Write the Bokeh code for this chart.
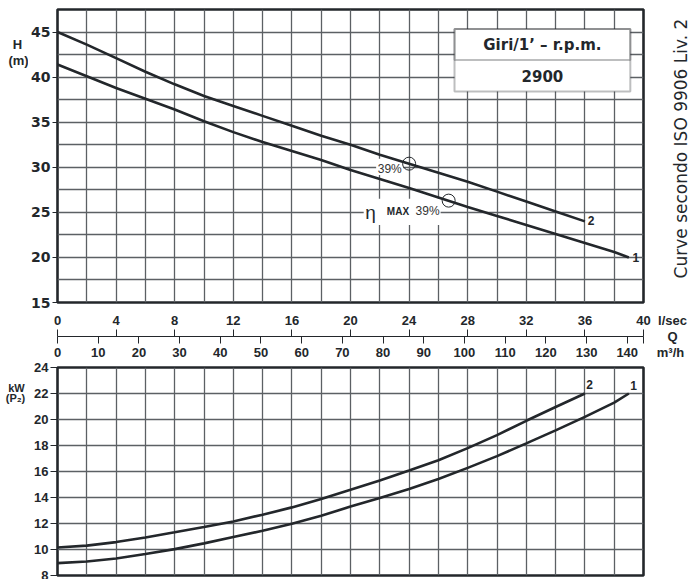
import math
from bokeh.plotting import figure
from bokeh.layouts import column, row
from bokeh.models import (Range1d, FixedTicker, LinearAxis, Label, BoxAnnotation,
                          CustomJSTickFormatter)
from bokeh.embed import file_html
from bokeh.resources import INLINE

FONT = "Liberation Sans"
WIDE = "DejaVu Sans"
INK = "#23272b"
GRID = "#5c6064"

# ---------------- data ----------------
# H-Q curves (Q in l/sec, H in m)
q_head2 = [0, 2, 4, 6, 8, 10, 12, 14, 16, 18, 20, 22, 24, 26, 28, 30, 32, 34, 36]
head2 = [45.0, 43.6, 42.1, 40.6, 39.2, 37.9, 36.8, 35.7, 34.6, 33.5, 32.5,
         31.4, 30.4, 29.4, 28.4, 27.3, 26.2, 25.1, 24.0]
q_head1 = [0, 2, 4, 6, 8, 10, 12, 14, 16, 18, 20, 22, 24, 26, 28, 30, 32, 34, 36, 38, 39]
head1 = [41.4, 40.1, 38.8, 37.6, 36.4, 35.1, 33.9, 32.8, 31.8, 30.8, 29.7,
         28.7, 27.7, 26.65, 25.6, 24.6, 23.6, 22.6, 21.6, 20.6, 20.0]

# P2-Q curves (kW)
q_pow2 = [0, 2, 4, 6, 8, 10, 12, 14, 16, 18, 20, 22, 24, 26, 28, 30, 32, 34, 36]
pow2 = [10.15, 10.3, 10.57, 10.93, 11.32, 11.73, 12.16, 12.68, 13.24, 13.89, 14.6,
        15.3, 16.07, 16.87, 17.8, 18.8, 19.9, 20.96, 22.0]
q_pow1 = [0, 2, 4, 6, 8, 10, 12, 14, 16, 18, 20, 22, 24, 26, 28, 30, 32, 34, 36, 38, 39]
pow1 = [8.95, 9.08, 9.31, 9.65, 10.03, 10.47, 10.96, 11.44, 11.98, 12.6, 13.3,
        13.96, 14.66, 15.43, 16.28, 17.18, 18.16, 19.16, 20.2, 21.3, 22.0]

# efficiency points
eta_q = [24.0, 26.7]
eta_h = [30.4, 26.3]

# ticks
head_ticks = [15, 20, 25, 30, 35, 40, 45]
pow_ticks = [8, 10, 12, 14, 16, 18, 20, 22, 24]
qls_ticks = [0, 4, 8, 12, 16, 20, 24, 28, 32, 36, 40]
qm3h_ticks = [0, 10, 20, 30, 40, 50, 60, 70, 80, 90, 100, 110, 120, 130, 140]
grid_q = list(range(0, 41, 2))
grid_h = [15 + 2.5 * i for i in range(14)]

rpm_title = "Giri/1’ – r.p.m."
rpm_value = "2900"
side_note = "Curve secondo ISO 9906 Liv. 2"

LEFT_W = 28
RIGHT_W = 38
TOTAL_W = 690
TOTAL_H = 579
MID_W = TOTAL_W - LEFT_W - RIGHT_W


def style_common(p, tick_font, tick_size):
    p.background_fill_color = "white"
    p.border_fill_color = "white"
    p.outline_line_color = INK
    p.outline_line_width = 2.6
    p.outline_line_alpha = 1.0
    for g in (p.xgrid, p.ygrid):
        g.grid_line_color = GRID
        g.grid_line_width = 1.3
    ax = p.yaxis[0]
    ax.axis_line_color = None
    ax.major_tick_out = 5
    ax.major_tick_in = 0
    ax.minor_tick_out = 0
    ax.minor_tick_in = 0
    ax.major_tick_line_color = INK
    ax.major_tick_line_width = 1
    ax.major_label_text_font = tick_font
    ax.major_label_text_font_style = "bold"
    ax.major_label_text_font_size = tick_size
    ax.major_label_text_color = INK
    ax.major_label_standoff = 2


def txt(p, x, y, text, size="13px", style="bold", align="center", angle=0.0,
        color=INK, font=FONT):
    p.add_layout(Label(x=x, y=y, text=text, text_font=font, text_font_size=size,
                       text_font_style=style, text_align=align, text_baseline="middle",
                       text_color=color, angle=angle))


def side_figure(w):
    s = figure(width=w, height=TOTAL_H, x_range=Range1d(0, w), y_range=Range1d(TOTAL_H, 0),
               output_backend="svg", toolbar_location=None, min_border=0)
    s.outline_line_color = None
    s.axis.visible = False
    s.grid.visible = False
    s.background_fill_color = "white"
    s.border_fill_color = "white"
    return s


# ---------------- top figure: H ----------------
p1 = figure(width=MID_W, height=361, x_range=Range1d(0, 40), y_range=Range1d(15, 47.5),
            output_backend="svg", toolbar_location=None,
            min_border_left=57 - LEFT_W, min_border_right=LEFT_W + MID_W - 643,
            min_border_top=9, min_border_bottom=59)
style_common(p1, WIDE, "14px")
p1.xgrid.ticker = FixedTicker(ticks=grid_q)
p1.ygrid.ticker = FixedTicker(ticks=grid_h)
p1.yaxis[0].ticker = FixedTicker(ticks=head_ticks)

# l/sec labels (nearest the frame)
axA = p1.xaxis[0]
axA.ticker = FixedTicker(ticks=qls_ticks)
axA.axis_line_color = None
axA.major_tick_out = 0
axA.major_tick_in = 0
axA.minor_tick_out = 0
axA.minor_tick_in = 0
axA.major_tick_line_color = None
axA.minor_tick_line_color = None
axA.major_label_text_font = FONT
axA.major_label_text_font_style = "bold"
axA.major_label_text_font_size = "13px"
axA.major_label_text_color = INK
axA.major_label_standoff = 13
axA.axis_label = " "
axA.axis_label_text_font_size = "6px"
axA.axis_label_standoff = 0

# m3/h axis with the shared line; l/sec ticks drawn upwards as minor ticks
axB = LinearAxis(ticker=FixedTicker(ticks=[m / 3.6 for m in qm3h_ticks] + [qls_ticks[-1]],
                                    minor_ticks=qls_ticks),
                 formatter=CustomJSTickFormatter(code="""
                     const v = Math.round(tick * 3.6);
                     return v > 140 ? "" : String(v);
                 """))
axB.axis_line_color = INK
axB.axis_line_width = 1
axB.major_tick_out = 7
axB.major_tick_in = 0
axB.minor_tick_out = 0
axB.minor_tick_in = 7
axB.major_tick_line_color = INK
axB.minor_tick_line_color = INK
axB.major_label_text_font = FONT
axB.major_label_text_font_style = "bold"
axB.major_label_text_font_size = "13px"
axB.major_label_text_color = INK
axB.major_label_standoff = 4
p1.add_layout(axB, "below")

# white patches behind efficiency labels
p1.add_layout(BoxAnnotation(left=21.75, right=23.6, bottom=29.15, top=30.95,
                            fill_color="white", fill_alpha=1, line_color=None, level="underlay"))
p1.add_layout(BoxAnnotation(left=20.9, right=26.15, bottom=23.6, top=26.5,
                            fill_color="white", fill_alpha=1, line_color=None, level="underlay"))

p1.line(q_head2, head2, line_color=INK, line_width=2.6)
p1.line(q_head1, head1, line_color=INK, line_width=2.6)
p1.scatter(eta_q, eta_h, marker="circle", size=13, fill_color=None, line_color=INK, line_width=1)

txt(p1, 23.5, 29.85, "39%", size="12px", style="normal", align="right", color="#333")
txt(p1, 21.37, 25.0, "η", size="19px", style="normal")
txt(p1, 23.24, 25.1, "MAX", size="10px", style="bold")
txt(p1, 25.26, 25.1, "39%", size="12px", style="normal", color="#333")

txt(p1, 36.2, 24.1, "2", size="12px", align="left")
txt(p1, 39.25, 20.0, "1", size="12px", align="left")

# rpm box
p1.add_layout(BoxAnnotation(left=27.1, right=39.1, bottom=38.4, top=45.35,
                            fill_color="white", fill_alpha=1, line_color=INK, line_width=2))
p1.add_layout(BoxAnnotation(left=27.1, right=39.1, bottom=41.9, top=45.35,
                            fill_color=None, line_color=INK, line_width=2))
txt(p1, 33.1, 43.6, rpm_title, size="15px", font=WIDE)
txt(p1, 33.1, 40.15, rpm_value, size="15px", font=WIDE)

# ---------------- bottom figure: P2 ----------------
p2 = figure(width=MID_W, height=TOTAL_H - 361, x_range=Range1d(0, 40), y_range=Range1d(8, 24),
            output_backend="svg", toolbar_location=None,
            min_border_left=57 - LEFT_W, min_border_right=LEFT_W + MID_W - 643,
            min_border_top=6, min_border_bottom=4)
style_common(p2, FONT, "13px")
p2.xaxis.visible = False
p2.xgrid.ticker = FixedTicker(ticks=grid_q)
p2.ygrid.ticker = FixedTicker(ticks=pow_ticks)
p2.yaxis[0].ticker = FixedTicker(ticks=pow_ticks)
p2.yaxis[0].major_tick_out = 7

p2.line(q_pow2, pow2, line_color=INK, line_width=2.6)
p2.line(q_pow1, pow1, line_color=INK, line_width=2.6)
txt(p2, 36.1, 22.7, "2", size="12px", align="left")
txt(p2, 39.1, 22.6, "1", size="12px", align="left")

# ---------------- side strips with the titles ----------------
sl = side_figure(LEFT_W)
txt(sl, 17, 44, "H", size="13px")
txt(sl, 18, 60, "(m)", size="13px")
txt(sl, 16, 387, "kW", size="11px")
txt(sl, 15, 397, "(P₂)", size="11px")

sr = side_figure(RIGHT_W)
x0 = LEFT_W + MID_W
txt(sr, 672 - x0, 320, "l/sec", size="13px")
txt(sr, 672 - x0, 336, "Q", size="13px")
txt(sr, 670 - x0, 352, "m³/h", size="13px")
txt(sr, 680 - x0, 148, side_note, size="17px", style="normal", angle=math.pi / 2, font=WIDE)

layout = row(sl, column(p1, p2, spacing=0), sr, spacing=0)
open("out.html", "w").write(file_html(layout, INLINE))
